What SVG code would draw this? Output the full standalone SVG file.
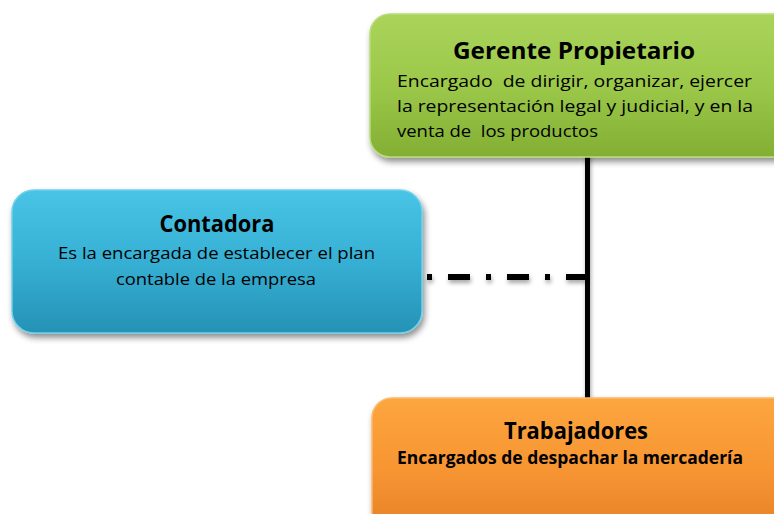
<svg xmlns="http://www.w3.org/2000/svg" width="774" height="514" viewBox="0 0 774 514">
<defs>
<linearGradient id="gGreen" x1="0" y1="0" x2="0" y2="1"><stop offset="0" stop-color="#a9d45a"/><stop offset="0.5" stop-color="#9cc84a"/><stop offset="1" stop-color="#82ae33"/></linearGradient>
<linearGradient id="gBlue" x1="0" y1="0" x2="0" y2="1"><stop offset="0" stop-color="#48c4e6"/><stop offset="0.5" stop-color="#36b0d4"/><stop offset="1" stop-color="#2592b5"/></linearGradient>
<linearGradient id="gOrange" x1="0" y1="0" x2="0" y2="1"><stop offset="0" stop-color="#fda63f"/><stop offset="0.5" stop-color="#f79532"/><stop offset="1" stop-color="#e47e26"/></linearGradient>
<filter id="shadow" x="-10%" y="-10%" width="130%" height="140%"><feDropShadow dx="2" dy="4" stdDeviation="3" flood-color="#000" flood-opacity="0.45"/></filter>
<filter id="lshadow" x="-20%" y="-50%" width="140%" height="300%"><feDropShadow dx="1" dy="3" stdDeviation="2" flood-color="#000" flood-opacity="0.35"/></filter>
</defs>
<style>
.box{stroke-width:1.5}
.t{font-family:"Open Sans","Liberation Sans",sans-serif;fill:#000}
.title{font-weight:bold;font-size:24px}
.body{font-size:17px}
.conn{stroke:#000;fill:none}
</style>
<rect width="774" height="514" fill="#fff"/>
<g id="connectors" filter="url(#lshadow)">
<line class="conn" x1="587.5" y1="150" x2="587.5" y2="405" stroke-width="5"/>
<line class="conn" x1="427" y1="277" x2="587" y2="277" stroke-width="6" stroke-dasharray="5 16 22 16"/>
</g>
<g id="gerente">
<rect class="box" x="370" y="14" width="430" height="143" rx="20" fill="url(#gGreen)" stroke="#b9dc78" filter="url(#shadow)"/>
<text class="t title" x="574" y="59" text-anchor="middle" textLength="242" lengthAdjust="spacingAndGlyphs">Gerente Propietario</text>
<text class="t body" x="397" y="87" textLength="355" lengthAdjust="spacingAndGlyphs" xml:space="preserve">Encargado  de dirigir, organizar, ejercer</text>
<text class="t body" x="397" y="112" textLength="356" lengthAdjust="spacingAndGlyphs">la representación legal y judicial, y en la</text>
<text class="t body" x="397" y="137" textLength="201" lengthAdjust="spacingAndGlyphs" xml:space="preserve">venta de  los productos</text>
</g>
<g id="contadora">
<rect class="box" x="12" y="190" width="410" height="143" rx="22" fill="url(#gBlue)" stroke="#6fd0ec" filter="url(#shadow)"/>
<text class="t title" x="217" y="232" text-anchor="middle" textLength="115" lengthAdjust="spacingAndGlyphs">Contadora</text>
<text class="t body" x="216.5" y="259" text-anchor="middle" textLength="317" lengthAdjust="spacingAndGlyphs">Es la encargada de establecer el plan</text>
<text class="t body" x="216" y="285" text-anchor="middle" textLength="200" lengthAdjust="spacingAndGlyphs">contable de la empresa</text>
</g>
<g id="trabajadores">
<rect class="box" x="372" y="398" width="430" height="143" rx="20" fill="url(#gOrange)" stroke="#fdb868" filter="url(#shadow)"/>
<text class="t title" x="576" y="439" text-anchor="middle" textLength="144" lengthAdjust="spacingAndGlyphs">Trabajadores</text>
<text class="t body" x="397" y="464" font-weight="bold" textLength="346" lengthAdjust="spacingAndGlyphs">Encargados de despachar la mercadería</text>
</g>
</svg>
